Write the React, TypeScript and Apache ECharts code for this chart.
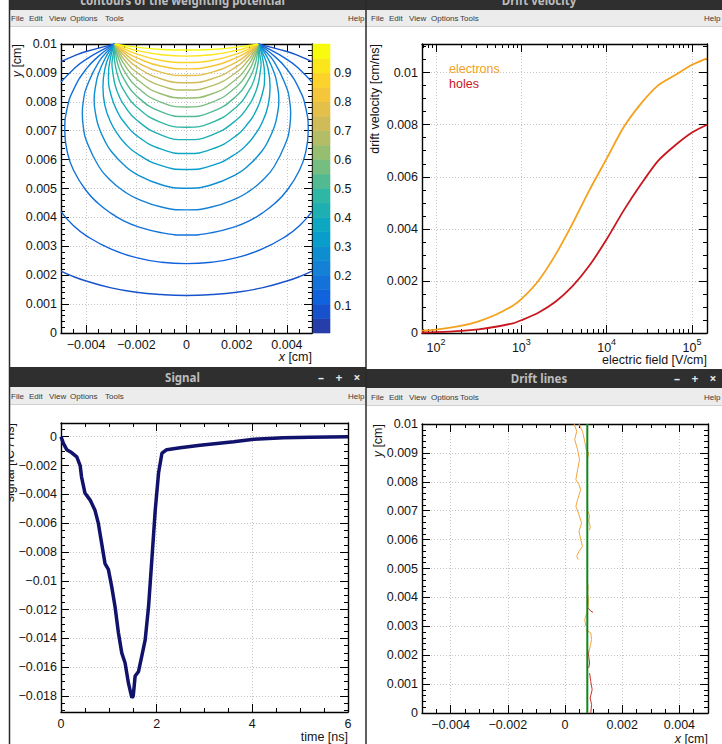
import React, { useEffect, useRef } from "react";
import * as echarts from "echarts";

// ================= Panel A : contours of the weighting potential =================
const CB_EDGES = [0.0056, 0.0553, 0.105, 0.1547, 0.2044, 0.2541, 0.3039, 0.3536, 0.4033, 0.453, 0.5027,
  0.5524, 0.6021, 0.6518, 0.7015, 0.7513, 0.801, 0.8507, 0.9004, 0.9501, 0.9998];
const CB_TICKS = [0.1, 0.2, 0.3, 0.4, 0.5, 0.6, 0.7, 0.8, 0.9];

// open contours (levels 1 and 2): lower arc and upper piece (right half, x >= 0), in cm
const L1_BOTTOM = [[0, 0.0013], [0.001, 0.00133], [0.002, 0.00141], [0.003, 0.00156], [0.004, 0.0018], [0.0045, 0.00195], [0.005, 0.00214]];
const L1_TOP = [[0.005, 0.00939], [0.0045, 0.00958], [0.004, 0.00974], [0.003, 0.00997], [0.00285, 0.01]];
const L2_BOTTOM = [[0, 0.0024], [0.001, 0.00245], [0.002, 0.00261], [0.003, 0.0029], [0.004, 0.00337], [0.0045, 0.00371], [0.005, 0.0042]];
const L2_TOP = [[0.005, 0.00868], [0.0045, 0.00913], [0.004, 0.00947], [0.003, 0.00995], [0.00285, 0.01]];

// closed contours (levels 3..19): right half from the centre to the strip edge, in cm
const CONTOURS = [
  [[0, 0.00339], [0.001, 0.00347], [0.002, 0.0037], [0.0025, 0.00388], [0.003, 0.00414], [0.0035, 0.00447], [0.004, 0.00493], [0.0045, 0.00563],
    [0.00475, 0.00627], [0.00485, 0.007], [0.00475, 0.00779], [0.0045, 0.00842], [0.004, 0.00913], [0.0035, 0.00958], [0.003, 0.00992], [0.00285, 0.01]],
  [[0, 0.00426], [0.001, 0.00436], [0.002, 0.00466], [0.0025, 0.00491], [0.003, 0.00526], [0.0035, 0.00577], [0.004, 0.00668], [0.0041, 0.00706],
    [0.00415, 0.0076], [0.0041, 0.00808], [0.004, 0.00846], [0.0035, 0.00937], [0.003, 0.00988], [0.00285, 0.01]],
  [[0, 0.00501], [0.001, 0.00513], [0.002, 0.0055], [0.0025, 0.00582], [0.003, 0.00629], [0.00325, 0.00664], [0.0035, 0.00714], [0.0036, 0.00748],
    [0.00368, 0.00805], [0.0036, 0.00865], [0.0035, 0.00899], [0.00325, 0.00949], [0.003, 0.00984], [0.00285, 0.01]],
  [[0, 0.00566], [0.001, 0.00579], [0.002, 0.00622], [0.0025, 0.00661], [0.0027, 0.00683], [0.003, 0.00726], [0.00325, 0.00787], [0.00333, 0.0085],
    [0.00325, 0.00915], [0.003, 0.00976], [0.00285, 0.01]],
  [[0, 0.00621], [0.001, 0.00636], [0.002, 0.00684], [0.0025, 0.00731], [0.0027, 0.00757], [0.003, 0.00821], [0.00311, 0.0089], [0.003, 0.00963], [0.00285, 0.01]],
  [[0, 0.00669], [0.001, 0.00685], [0.002, 0.00738], [0.0025, 0.0079], [0.0027, 0.00823], [0.00285, 0.0086], [0.00295, 0.00911], [0.00297, 0.0093],
    [0.00295, 0.00949], [0.00285, 0.01]],
  [[0, 0.00712], [0.001, 0.00728], [0.002, 0.00783], [0.0025, 0.0084], [0.0027, 0.00878], [0.00285, 0.00933], [0.00288, 0.0096], [0.00285, 0.01]],
  [[0, 0.00749], [0.001, 0.00765], [0.002, 0.00821], [0.0025, 0.0088], [0.0027, 0.0092], [0.0028, 0.00954], [0.00285, 0.01]],
  [[0, 0.00782], [0.001, 0.00798], [0.002, 0.00853], [0.0025, 0.0091], [0.0027, 0.00948], [0.0028, 0.00977], [0.00285, 0.01]],
  [[0, 0.00813], [0.001, 0.00827], [0.002, 0.0088], [0.0025, 0.00932], [0.0027, 0.00965], [0.0028, 0.00986], [0.00285, 0.01]],
  [[0, 0.00841], [0.001, 0.00855], [0.002, 0.00903], [0.0025, 0.00948], [0.0027, 0.00975], [0.00285, 0.01]],
  [[0, 0.00866], [0.001, 0.00879], [0.002, 0.00922], [0.0025, 0.00961], [0.0027, 0.00981], [0.00285, 0.01]],
  [[0, 0.00891], [0.001, 0.00902], [0.002, 0.00938], [0.0025, 0.0097], [0.0027, 0.00986], [0.00285, 0.01]],
  [[0, 0.00914], [0.001, 0.00923], [0.002, 0.00953], [0.0025, 0.00977], [0.0027, 0.0099], [0.00285, 0.01]],
  [[0, 0.00936], [0.001, 0.00943], [0.002, 0.00966], [0.0025, 0.00984], [0.0027, 0.00993], [0.00285, 0.01]],
  [[0, 0.00958], [0.001, 0.00963], [0.002, 0.00978], [0.0025, 0.0099], [0.00285, 0.01]],
  [[0, 0.00979], [0.001, 0.00981], [0.002, 0.00989], [0.0025, 0.00995], [0.00285, 0.01]],
];

// ================= Panel B : drift velocity =================
const FIELD = [68.5, 100, 200, 316, 500, 794, 1000, 1580, 2510, 3980, 6310, 10000, 15800, 25100, 39800, 63100, 100000, 150000];
const VEL_ELECTRONS = [0.00009, 0.00013, 0.00028, 0.00045, 0.0007, 0.00105, 0.0013, 0.002, 0.003, 0.0042, 0.0055, 0.0067, 0.0079,
  0.0088, 0.0095, 0.0099, 0.0103, 0.01055];
const VEL_HOLES = [0.00002, 0.00003, 0.00008, 0.00014, 0.00024, 0.00037, 0.00049, 0.00078, 0.0012, 0.0018, 0.0026, 0.0036, 0.0047,
  0.0057, 0.0066, 0.0072, 0.0077, 0.008];
const FIELD_RANGE = [68.5, 150000];

// ================= Panel C : signal =================
const SIGNAL_T = [0, 0.05, 0.12, 0.22, 0.33, 0.4, 0.43, 0.5, 0.61, 0.71, 0.78, 0.85, 0.92, 0.99, 1.06, 1.13, 1.2, 1.27, 1.34, 1.41,
  1.48, 1.51, 1.55, 1.62, 1.69, 1.76, 1.83, 1.9, 1.97, 2.04, 2.11, 2.21, 2.49, 2.91, 3.61, 4.03, 4.65, 5.2, 6.0];
const SIGNAL_V = [0, -0.00046, -0.0009, -0.0011, -0.0014, -0.002, -0.0028, -0.0039, -0.0044, -0.0051, -0.006, -0.0074, -0.0088,
  -0.0092, -0.0104, -0.0118, -0.0136, -0.015, -0.0157, -0.0171, -0.0181, -0.018, -0.0166, -0.0163, -0.0152, -0.0141, -0.0118,
  -0.0085, -0.0051, -0.0025, -0.00115, -0.0009, -0.00076, -0.0006, -0.00035, -0.00018, -0.00007, -0.00003, 0];

// ================= Panel D : drift lines =================
const WIRE = [[0.00078, 0], [0.00078, 0.01]];
const DRIFT_ELECTRONS = [
  [[0.00032, 0.01], [0.00041, 0.00975], [0.00034, 0.00946], [0.00044, 0.00911], [0.00051, 0.00877], [0.00044, 0.00842], [0.00038, 0.00807],
    [0.00049, 0.0079], [0.00055, 0.00773], [0.00044, 0.00738], [0.00038, 0.00715], [0.00049, 0.00686], [0.00058, 0.00657], [0.00049, 0.00629],
    [0.00055, 0.006], [0.00061, 0.00577], [0.00049, 0.00559], [0.00041, 0.00542], [0.00046, 0.00531]],
  [[0.00049, 0.01], [0.00061, 0.00975], [0.00069, 0.0094], [0.00074, 0.00911], [0.00083, 0.009], [0.00079, 0.00882]],
  [[0.00081, 0.00698], [0.00086, 0.00681], [0.00083, 0.00664], [0.00088, 0.00646], [0.00086, 0.00632]],
  [[0.00076, 0.0046], [0.00081, 0.00438], [0.00079, 0.00415], [0.00083, 0.00392], [0.00081, 0.00369], [0.00076, 0.00346], [0.00069, 0.00323], [0.00073, 0.003]],
  [[0.00073, 0.00288], [0.0009, 0.00277], [0.00093, 0.00254], [0.00088, 0.00231], [0.00083, 0.00208]],
];
const DRIFT_HOLES = [
  [[0.00086, 0.00138], [0.0009, 0.00109], [0.00095, 0.00081], [0.00088, 0.00052], [0.00093, 0.00029], [0.0009, 0]],
  [[0.00079, 0.00219], [0.00083, 0.00196], [0.00086, 0.00173], [0.00083, 0.00156]],
  [[0.00081, 0.00363], [0.0009, 0.00353], [0.00098, 0.00348]],
];

// ================= tick values =================
const POS_X_MAJOR = [-0.004, -0.002, 0, 0.002, 0.004];
const POS_Y_MAJOR = [0, 0.001, 0.002, 0.003, 0.004, 0.005, 0.006, 0.007, 0.008, 0.009, 0.01];
const VEL_Y_MAJOR = [0, 0.002, 0.004, 0.006, 0.008, 0.01];
const LOG_MAJOR = [2, 3, 4, 5];
const TIME_MAJOR = [0, 2, 4, 6];
const SIG_Y_MAJOR = [0, -0.002, -0.004, -0.006, -0.008, -0.01, -0.012, -0.014, -0.016, -0.018];

function steps(from: number, to: number, step: number) {
  const out: number[] = [];
  const n = Math.round((to - from) / step);
  for (let i = 0; i <= n; i++) out.push(+(from + i * step).toFixed(8));
  return out;
}
const POS_X_MINOR = steps(-0.005, 0.005, 0.0005);
const POS_Y_MINOR = steps(0, 0.01, 0.0002);
const VEL_Y_MINOR = steps(0, 0.011, 0.0005);
const TIME_MINOR = steps(0, 6, 0.5);
const SIG_Y_MINOR = steps(-0.019, 0.0005, 0.0005);
const LOG_MINOR: number[] = [];
[1, 2, 3, 4].forEach((d) => [2, 3, 4, 5, 6, 7, 8, 9].forEach((m) => LOG_MINOR.push(Math.log10(m * Math.pow(10, d)))));

// ================= styles =================
const FONT = "'Liberation Sans', Arial, Helvetica, sans-serif";
const UI_FONT = "'Noto Sans', 'DejaVu Sans', sans-serif";
const TXT = "#141414";
const LABEL = { color: TXT, fontSize: 12.5, fontFamily: FONT };
const BIRD = [[0.2082, 0.1664, 0.5293], [0.0592, 0.3599, 0.8684], [0.078, 0.5041, 0.8385], [0.0232, 0.6419, 0.7914],
  [0.1802, 0.7178, 0.6425], [0.5301, 0.7492, 0.4662], [0.8186, 0.7328, 0.3499], [0.9956, 0.7862, 0.1968], [0.9764, 0.9832, 0.0539]];
function bird(f: number) {
  const p = Math.max(0, Math.min(1, f)) * 8;
  const i = Math.min(7, Math.floor(p));
  const t = p - i;
  const c = BIRD[i].map((v, k) => Math.round(255 * (v + (BIRD[i + 1][k] - v) * t)));
  return `rgb(${c[0]},${c[1]},${c[2]})`;
}
const bandColor = (i: number) => bird((i + 0.99) / 20);

function fmt(v: number) {
  const r = Math.round(v * 1e7) / 1e7;
  return String(r).replace("-", "\u2212");
}

function axes(dim: "x" | "y", gridIndex: number, s: any) {
  const [p1, p2] = dim === "x" ? ["bottom", "top"] : ["left", "right"];
  const base = { type: "value", gridIndex, min: s.min, max: s.max };
  const line = { show: true, onZero: false, lineStyle: { color: "#000", width: 1.4 } };
  const noLine = { show: false, onZero: false };
  const tick = (vals: number[], len: number) => ({ show: true, inside: true, length: len, customValues: vals, lineStyle: { color: "#000", width: 1 } });
  const none = { axisLabel: { show: false }, splitLine: { show: false }, minorTick: { show: false }, minorSplitLine: { show: false } };
  return [
    {
      ...base, position: p1, axisLine: line, axisTick: tick(s.major, 8),
      axisLabel: { show: true, customValues: s.major, formatter: s.fmt || fmt, margin: s.margin ?? 5, ...LABEL, rich: s.rich },
      splitLine: { show: true, lineStyle: { color: "#c4c4c4", width: 1, type: [1, 2] } },
      minorTick: { show: false },
    },
    { ...base, position: p1, axisLine: noLine, axisTick: tick(s.minor, 4), ...none },
    { ...base, position: p2, axisLine: line, axisTick: tick(s.major, 8), ...none },
    { ...base, position: p2, axisLine: noLine, axisTick: tick(s.minor, 4), ...none },
  ];
}

function mirrorLoop(half: number[][]) {
  const left = half.slice().reverse().map(([x, y]) => [-x, y]);
  return [...left, ...half.slice(1)];
}

function lineSeries(data: number[][], ax: number, color: string, width: number, smooth: number | boolean = false, z = 3) {
  return {
    type: "line", xAxisIndex: ax, yAxisIndex: ax, data, showSymbol: false, symbol: "none", smooth,
    lineStyle: { color, width }, silent: true, z, animation: false,
  };
}

function text(x: number, y: number, str: string, o: any = {}) {
  return {
    type: "text", x, y, rotation: o.rotation || 0, z: o.z ?? 50, silent: true,
    style: {
      text: str, fill: o.fill || TXT, font: o.font || `12.5px ${FONT}`,
      textAlign: o.align || "left", textVerticalAlign: o.valign || "middle", rich: o.rich,
    },
  };
}
function rect(x: number, y: number, w: number, h: number, fill: string, z = 40) {
  return { type: "rect", shape: { x, y, width: w, height: h }, style: { fill }, z, silent: true };
}
function vline(x: number, y1: number, y2: number, stroke: string, w: number, z = 60) {
  return { type: "line", shape: { x1: x, y1, x2: x, y2 }, style: { stroke, lineWidth: w }, z, silent: true };
}

function windowChrome(x: number, w: number, titleY: number, titleH: number, menuY: number, menuH: number, title: string, buttons: boolean, menuX: number[], helpX: number) {
  const els: any[] = [];
  els.push(rect(x, titleY, w, titleH, "#2f2f2f"));
  els.push(text(x + w / 2 - 5, titleY + titleH / 2 + (titleH < 14 ? -4.5 : 0), title, { align: "center", fill: "#bdbdbd", font: `bold 11.5px ${UI_FONT}`, z: 45 }));
  if (buttons) {
    const bx = x + w - 45;
    ["\u2013", "+", "\u00d7"].forEach((b, i) =>
      els.push(text(bx + i * 18, titleY + titleH / 2, b, { align: "center", fill: "#e6e6e6", font: `bold 12px ${UI_FONT}`, z: 45 })));
  }
  els.push(rect(x, menuY, w, menuH, "#ececec"));
  els.push({ type: "line", shape: { x1: x, y1: menuY + menuH - 0.5, x2: x + w, y2: menuY + menuH - 0.5 }, style: { stroke: "#d0d0d0", lineWidth: 1 }, z: 41, silent: true });
  ["File", "Edit", "View", "Options", "Tools"].forEach((m, i) =>
    els.push(text(menuX[i], menuY + menuH / 2, m, { fill: "#3a3a3a", font: `8px ${FONT}`, z: 45 })));
  els.push(text(helpX, menuY + menuH / 2, "Help", { fill: "#3a3a3a", font: `8px ${FONT}`, z: 45 }));
  return els;
}

function buildOption() {
  const xAxis: any[] = [];
  const yAxis: any[] = [];
  // grid 0: contours  (axes 0..3)
  xAxis.push(...axes("x", 0, { min: -0.005, max: 0.005, major: POS_X_MAJOR, minor: POS_X_MINOR }));
  yAxis.push(...axes("y", 0, { min: 0, max: 0.01, major: POS_Y_MAJOR, minor: POS_Y_MINOR, margin: 4 }));
  // grid 1: colour bar (axis 4)
  xAxis.push({ type: "value", gridIndex: 1, min: 0, max: 1, show: false });
  yAxis.push({
    type: "value", gridIndex: 1, min: CB_EDGES[0], max: CB_EDGES[CB_EDGES.length - 1], position: "right",
    axisLine: { show: false, onZero: false }, axisTick: { show: true, inside: true, length: 10, customValues: CB_TICKS, lineStyle: { color: "#000", width: 1.3 } },
    axisLabel: { show: true, customValues: CB_TICKS, formatter: fmt, margin: 4, ...LABEL }, splitLine: { show: false },
  });
  // grid 2: drift velocity (axes 5..8)
  const rich = {
    b: { fontSize: 12.5, fontFamily: FONT, color: TXT, lineHeight: 17, verticalAlign: "bottom" },
    s: { fontSize: 9, fontFamily: FONT, color: TXT, lineHeight: 8, verticalAlign: "top" },
  };
  xAxis.push(...axes("x", 2, {
    min: Math.log10(FIELD_RANGE[0]), max: Math.log10(FIELD_RANGE[1]), major: LOG_MAJOR, minor: LOG_MINOR,
    fmt: (v: number) => `{b|10}{s|${Math.round(v)}}`, rich, margin: 4,
  }));
  yAxis.push(...axes("y", 2, { min: 0, max: 0.0111, major: VEL_Y_MAJOR, minor: VEL_Y_MINOR, margin: 4 }));
  // grid 3: signal (axes 9..12)
  xAxis.push(...axes("x", 3, { min: 0, max: 6, major: TIME_MAJOR, minor: TIME_MINOR }));
  yAxis.push(...axes("y", 3, { min: -0.0191, max: 0.00095, major: SIG_Y_MAJOR, minor: SIG_Y_MINOR, margin: 4 }));
  // grid 4: drift lines (axes 13..16)
  xAxis.push(...axes("x", 4, { min: -0.005, max: 0.005, major: POS_X_MAJOR, minor: POS_X_MINOR }));
  yAxis.push(...axes("y", 4, { min: 0, max: 0.01, major: POS_Y_MAJOR, minor: POS_Y_MINOR, margin: 4 }));

  const series: any[] = [];
  // contours
  const openPieces = [[L1_BOTTOM, L1_TOP], [L2_BOTTOM, L2_TOP]];
  openPieces.forEach(([bottom, top], i) => {
    const c = bandColor(i + 1);
    series.push(lineSeries(mirrorLoop(bottom), 0, c, 1.4, 0.5));
    series.push(lineSeries(top, 0, c, 1.4, 0.5));
    series.push(lineSeries(top.map(([x, y]) => [-x, y]), 0, c, 1.4, 0.5));
  });
  CONTOURS.forEach((half, i) => series.push(lineSeries(mirrorLoop(half), 0, bandColor(i + 3), 1.4, 0.5)));
  // colour bar
  const bands = CB_EDGES.slice(0, -1).map((lo, i) => [lo, CB_EDGES[i + 1], i]);
  series.push({
    type: "custom", xAxisIndex: 4, yAxisIndex: 4, data: bands, silent: true,
    renderItem: (_p: any, api: any) => {
      const lo = api.value(0), hi = api.value(1), i = api.value(2);
      const a = api.coord([0, lo]);
      const b = api.coord([1, hi]);
      return { type: "rect", shape: { x: a[0], y: b[1], width: b[0] - a[0], height: a[1] - b[1] }, style: { fill: bandColor(i), stroke: bandColor(i), lineWidth: 0.6 } };
    },
  });
  // drift velocity
  series.push(lineSeries(FIELD.map((e, i) => [Math.log10(e), VEL_ELECTRONS[i]]), 5, "#f4a11c", 1.8, 0.25));
  series.push(lineSeries(FIELD.map((e, i) => [Math.log10(e), VEL_HOLES[i]]), 5, "#c8171e", 1.8, 0.25));
  // signal
  series.push(lineSeries(SIGNAL_T.map((t, i) => [t, SIGNAL_V[i]]), 9, "#10126b", 3.5, false));
  // drift lines
  DRIFT_ELECTRONS.forEach((d) => series.push(lineSeries(d, 13, "#f3a43a", 1, false)));
  DRIFT_HOLES.forEach((d) => series.push(lineSeries(d, 13, "#d0312d", 1, false)));
  series.push(lineSeries(WIRE, 13, "#12861e", 2, false, 4));

  const italicRich = {
    i: { fontStyle: "italic", fontSize: 12.5, fontFamily: FONT, color: TXT },
    n: { fontSize: 12.5, fontFamily: FONT, color: TXT },
  };

  const g: any[] = [];
  // axis titles
  g.push(text(17, 44, "{i|y} {n|[cm]}", { rotation: Math.PI / 2, align: "right", rich: italicRich }));
  g.push(text(312, 357, "{i|x} {n|[cm]}", { align: "right", rich: italicRich }));
  g.push(text(375, 44, "drift velocity [cm/ns]", { rotation: Math.PI / 2, align: "right" }));
  g.push(text(707, 360, "electric field [V/cm]", { align: "right" }));
  g.push(text(449, 69, "electrons", { fill: "#f4a11c" }));
  g.push(text(449, 84, "holes", { fill: "#c8171e" }));
  g.push(text(10, 423, "signal [fC / ns]", { rotation: Math.PI / 2, align: "right" }));
  g.push(text(348, 737, "time [ns]", { align: "right" }));
  g.push(text(378, 424, "{i|y} {n|[cm]}", { rotation: Math.PI / 2, align: "right", rich: italicRich }));
  g.push(text(708, 739, "{i|x} {n|[cm]}", { align: "right", rich: italicRich }));
  // left margin outside the windows
  g.push(rect(0, 0, 9, 744, "#ffffff", 55));
  // window chrome
  const leftMenu = [11, 29, 49, 70, 105];
  const rightMenu = [371, 389, 409, 431, 460];
  g.push(...windowChrome(9, 357, 0, 10, 10, 17, "contours of the weighting potential", false, leftMenu, 348));
  g.push(...windowChrome(366, 356, 0, 10, 10, 17, "Drift velocity", false, rightMenu, 704));
  g.push(...windowChrome(9, 357, 367, 20, 387, 18, "Signal", true, leftMenu, 348));
  g.push(...windowChrome(366, 356, 369, 19, 388, 18, "Drift lines", true, rightMenu, 704));
  g.push(vline(9.5, 0, 744, "#2a2a2a", 1.5));
  g.push(vline(366, 0, 744, "#2a2a2a", 1.5));

  const grid = (left: number, top: number, width: number, height: number) => ({ left, top, width, height, containLabel: false, outerBoundsMode: "none" });

  return {
    animation: false,
    backgroundColor: "#ffffff",
    grid: [grid(61, 44, 251, 289), grid(313, 44, 17, 289), grid(422, 44, 285, 289), grid(61, 423, 287, 289), grid(422, 424, 286, 289)],
    xAxis, yAxis, series,
    graphic: { elements: g },
  };
}

export default function App() {
  const ref = useRef<HTMLDivElement>(null);
  useEffect(() => {
    document.body.style.margin = "0";
    const chart = echarts.init(ref.current!, null, { renderer: "svg", width: 722, height: 744 });
    chart.setOption(buildOption() as any);
    return () => chart.dispose();
  }, []);
  return <div ref={ref} style={{ width: 722, height: 744, position: "absolute", left: 0, top: 0 }} />;
}
